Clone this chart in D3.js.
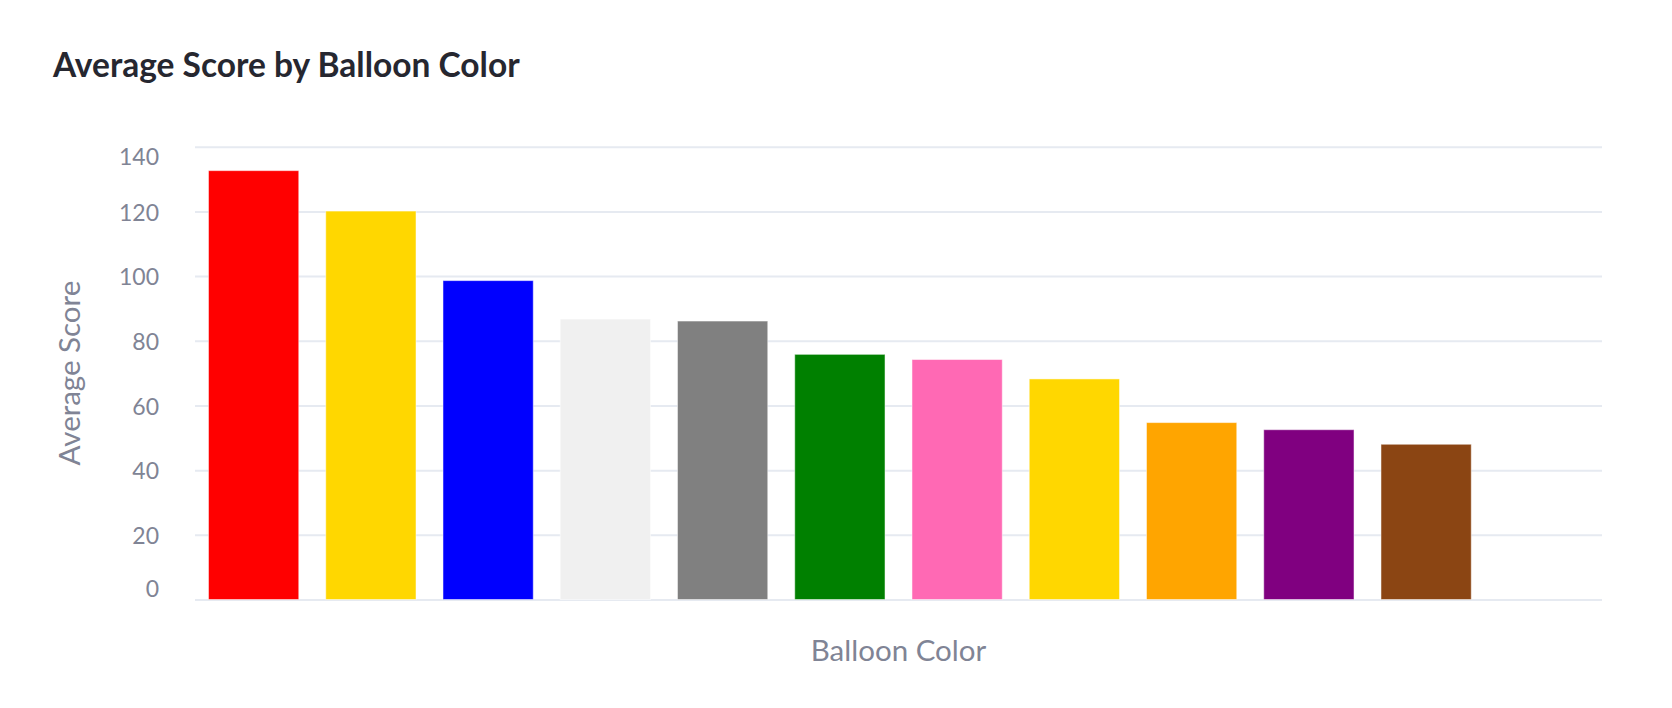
<!DOCTYPE html>
<html>
<head>
<meta charset="utf-8">
<script src="https://cdn.jsdelivr.net/npm/d3@7"></script>
<style>
  body { margin: 0; background: #fff; }
  text { font-family: "Source Sans Pro", Lato, sans-serif; }
</style>
</head>
<body>
<script>
var w = 1672;
var h = 708;

// data
var categories = ["Red", "Yellow", "Blue", "White", "Gray", "Green", "Pink", "Gold", "Orange", "Purple", "Brown", "Other"];
var scores = [132.6, 120.1, 98.6, 86.7, 86.1, 75.8, 74.2, 68.2, 54.7, 52.5, 48.0, 0];
var barColors = ["#ff0000", "#ffd700", "#0000ff", "#f0f0f0", "#808080", "#008000", "#ff69b4", "#ffd700", "#ffa500", "#800080", "#8b4513", "#ffffff"];
var yTicks = [0, 20, 40, 60, 80, 100, 120, 140];

var margin = {left: 195, right: 70, top: 146.7, bottom: 108.5};

var svg = d3.select("body").append("svg").attr("width", w).attr("height", h);

var x = d3.scaleBand()
    .domain(categories)
    .range([margin.left, w - margin.right])
    .paddingInner(0.23)
    .paddingOuter(0.115);

var y = d3.scaleLinear()
    .domain([0, 140])
    .range([h - margin.bottom, margin.top]);

// grid lines
var yAxis = d3.axisLeft(y)
    .tickValues(yTicks)
    .tickSize(-(w - margin.right - margin.left))
    .tickPadding(36);

var gy = svg.append("g")
    .attr("transform", "translate(" + margin.left + ",0)")
    .call(yAxis);
gy.select(".domain").remove();
gy.selectAll(".tick line").attr("stroke", "#e6eaf1").attr("stroke-width", 2);
// end labels are pulled inside the plot like in the original
gy.selectAll(".tick text")
    .attr("fill", "#808495")
    .style("font-size", "23px")
    .attr("y", function(d){ return d == 140 ? 10 : (d == 0 ? -11 : 1); })
    .attr("dy", "0.34em");

// bars
svg.append("g").selectAll("rect")
    .data(scores)
    .enter().append("rect")
    .attr("x", function(d, i){ return x(categories[i]); })
    .attr("y", function(d){ return y(d); })
    .attr("width", x.bandwidth())
    .attr("height", function(d){ return y(0) - y(d); })
    .attr("fill", function(d, i){ return barColors[i]; })
    .attr("stroke", "rgba(255,255,255,0.5)")
    .attr("stroke-width", 1);

// titles
svg.append("text")
    .attr("x", 53)
    .attr("y", 77)
    .attr("fill", "#262730")
    .style("font-size", "33.5px")
    .style("font-weight", "bold")
    .text("Average Score by Balloon Color");

svg.append("text")
    .attr("transform", "translate(80," + ((y(0) + y(140)) / 2) + ") rotate(-90)")
    .attr("text-anchor", "middle")
    .attr("fill", "#808495")
    .style("font-size", "29.5px")
    .text("Average Score");

svg.append("text")
    .attr("x", (margin.left + w - margin.right) / 2)
    .attr("y", 661)
    .attr("text-anchor", "middle")
    .attr("fill", "#808495")
    .style("font-size", "29.5px")
    .text("Balloon Color");
</script>
</body>
</html>
